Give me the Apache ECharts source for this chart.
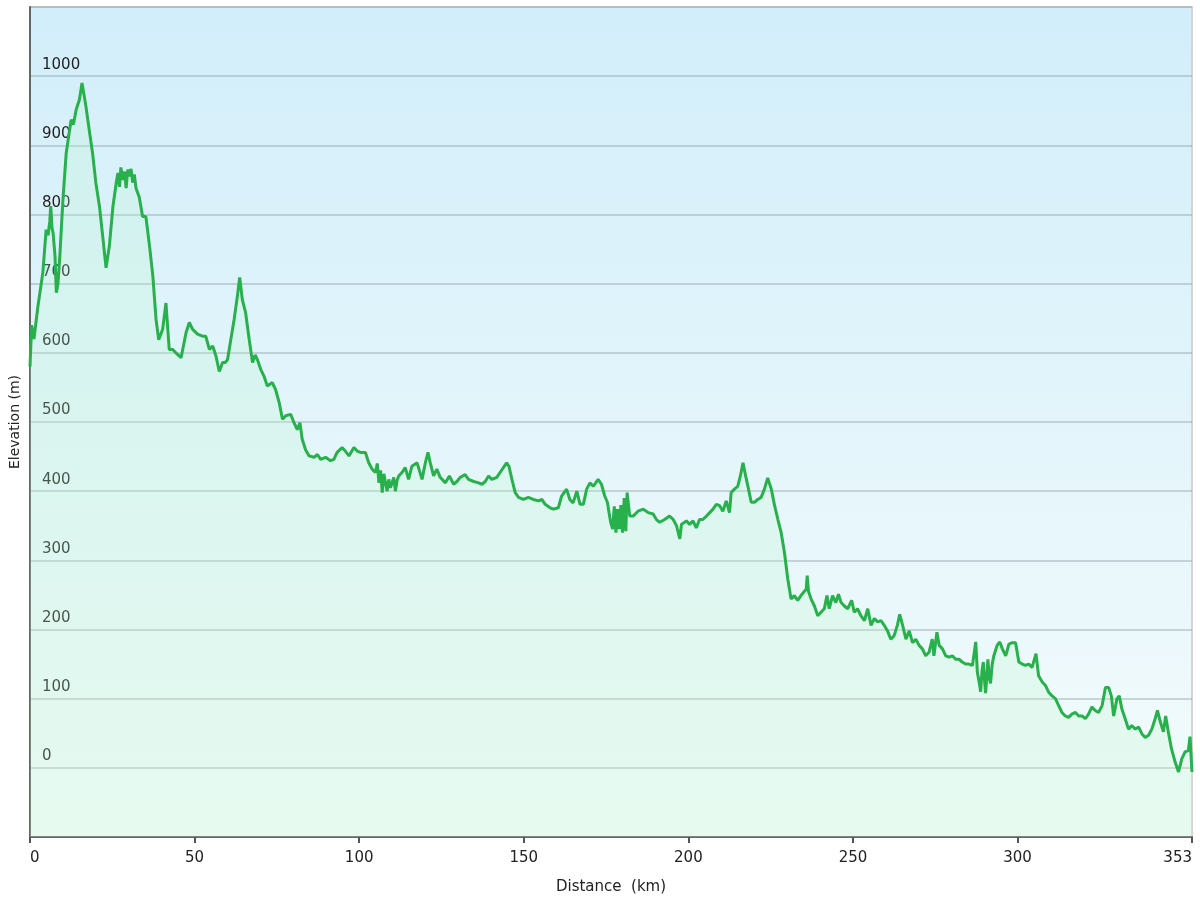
<!DOCTYPE html>
<html>
<head>
<meta charset="utf-8">
<script src="https://cdn.jsdelivr.net/npm/echarts@6/dist/echarts.min.js"></script>
<style>html,body{margin:0;padding:0;background:#fff}#c{width:1200px;height:900px}</style>
</head>
<body>
<div id="c"></div>
<script>
// Distance along the route (km)
const distKm = [
0,0.5,1.2,2.4,3.9,4.9,5.5,6.0,6.3,6.7,7.0,7.6,8.0,8.5,9.0,10,11,12.5,13.2,14,15,15.8,17,18,19,20,21.1,22.1,23.1,24.1,25.2,26.2,26.7,27.2,27.6,28.2,28.7,29.2,29.7,30.2,30.7,31.2,31.7,32.2,33.2,34.2,35.2,36.3,37.3,38.3,39.1,40.3,41.3,42.3,43.3,44.3,45.9,47.4,48.4,49.4,50.9,52.4,53.4,54.5,55.5,56.5,57.5,58.5,
59.3,60,61,62,63,63.7,64.5,65.5,66.6,67.6,68.4,69.1,70.1,71.1,72.1,73.6,74.6,75.7,76.7,77.7,79.2,80.2,81.2,82,82.7,83.7,84.8,86.3,87.3,88.3,89.8,91.3,92.3,93.3,94.8,95.8,96.9,98.4,99.4,100.4,101.9,102.9,103.9,104.9,105.5,106,106.5,107,107.5,108,108.5,109,109.5,110,110.5,111,111.5,112,113,114,115,116,117.6,
119.1,120.1,120.9,121.6,122.6,123.6,124.6,126.2,127.4,128.7,129.7,130.7,132.2,133.2,134.8,136.3,137.3,138.3,139.3,140.3,141.8,142.8,143.8,144.8,145.5,146.4,147.4,148.4,149.9,151.4,152.9,154.5,155.5,156.5,158,159,160.5,161.5,163,164,165,166.1,167.1,168.1,169.1,170.1,171.1,172.6,173.6,174.6,
175.4,175.9,176.4,177,177.5,178,178.5,179,179.5,180,180.5,181,181.4,182.2,183.2,184.7,186.3,187.8,189.3,190.3,191.3,192.8,194.3,195.4,196.4,197.4,197.9,199.4,200.4,201.4,202.4,203.4,204.4,205.5,206.5,207.5,208.5,209.5,210.5,211.5,212.5,213,214,215,215.8,216.6,217.4,218.1,219.1,220.1,221.1,222.1,223.1,224.1,225.2,226.2,227.2,228.2,229.2,230.2,231.2,232.2,233.2,234.2,
235.2,235.8,236.1,236.5,237.3,238.3,239.3,240.3,241.3,242.1,242.8,243.8,244.8,245.6,246.4,247.4,248.4,249.6,250.4,251.4,252.4,253.5,254.5,255.5,256.5,257.5,258.5,259.5,260.5,261.5,262.5,263.5,264.2,265.1,266.1,267.1,268.1,269.1,270.1,271.1,272.1,273.1,274.1,274.6,275.5,276.2,277.2,278.2,279.2,280.2,281.2,282.2,283.2,284.2,285.2,286.3,287.3,287.8,288.3,288.8,289.2,289.6,290,290.3,290.7,291,291.4,291.8,292.3,292.8,293.8,294.6,
295.4,296.4,297.4,298.4,299.4,300.4,301.4,302.4,303.4,304.4,305.6,306.4,307.5,308.5,309.5,310.5,311.5,312.5,313.5,314.5,315.5,316.6,317.6,318.6,319.6,320.6,321.6,322.6,323.6,324.6,325.7,326.7,327.7,328.5,329.2,330.2,330.9,331.7,332.7,333.7,334.7,335.8,336.8,337.8,338.8,339.8,340.8,341.8,342.5,343.3,344.3,345,345.8,346.8,347.9,348.9,349.9,350.9,351.9,352.4,353
];
// Elevation (m)
const elevM = [
580,640,620,667,716,778,770,790,812,780,774,740,687,700,735,821,889,937,930,951,966,990,956,922,889,846,812,768,723,754,812,846,860,840,868,850,862,838,865,855,866,846,858,838,825,797,797,755,712,648,619,634,672,605,605,600,593,629,644,634,627,624,624,605,610,595,573,586,
586,590,619,648,682,709,677,658,619,586,597,590,576,566,552,557,547,528,504,509,511,499,489,499,475,460,451,449,453,446,449,444,446,456,463,458,451,463,458,456,456,441,432,427,440,412,430,398,425,412,400,417,405,412,420,400,415,422,427,434,417,436,441,
417,441,456,441,422,432,420,412,422,410,414,420,424,417,414,412,410,414,422,417,420,427,434,441,436,417,398,391,388,391,388,386,388,381,376,374,376,393,403,388,383,400,381,381,403,412,407,417,410,393,
384,369,355,345,378,340,374,345,380,340,390,342,398,364,364,371,374,369,367,359,355,359,364,359,350,331,352,357,352,357,347,359,359,364,369,374,381,379,371,386,369,398,403,407,422,441,422,407,384,384,388,391,403,419,403,379,359,340,311,273,244,249,242,249,
255,258,278,255,244,234,220,225,230,249,230,249,239,251,239,234,230,242,225,230,220,213,230,206,216,211,213,206,198,186,191,206,222,206,186,198,181,186,177,172,162,167,186,162,196,177,172,162,160,162,157,157,153,150,150,148,182,138,125,110,140,153,125,108,135,157,130,122,150,162,177,182,
172,162,179,181,181,153,150,148,150,145,165,133,124,119,109,104,100,90,80,75,73,78,80,75,75,71,78,88,83,80,90,116,116,104,75,100,104,85,71,56,61,56,59,49,44,47,56,71,83,68,52,75,52,27,8,-6,13,23,25,45,-6
];
const xTickValues = [0,50,100,150,200,250,300,353];
const yMin = -100, yMax = 1100, yStep = 100;

const profile = distKm.map((d, i) => [d, elevM[i]]);
const FONT = '"DejaVu Sans", Verdana, sans-serif';

const chart = echarts.init(document.getElementById('c'));
chart.setOption({
  animation: false,
  backgroundColor: '#ffffff',
  grid: {
    left: 27, right: 8, top: 7, bottom: 61,
    show: true,
    borderColor: '#d4d4d4', borderWidth: 2,
    backgroundColor: new echarts.graphic.LinearGradient(0, 0, 0, 1, [
      {offset: 0, color: '#d2eefa'},
      {offset: 1, color: '#f4fcfc'}
    ])
  },
  xAxis: {
    type: 'value', min: 0, max: 353,
    name: 'Distance  (km)', nameLocation: 'middle', nameGap: 43,
    nameTextStyle: {fontFamily: FONT, fontSize: 15, color: '#222'},
    axisLine: {show: true, onZero: false, lineStyle: {color: '#666', width: 2}},
    axisTick: {show: true, customValues: xTickValues, length: 6, lineStyle: {color: '#555', width: 2}},
    axisLabel: {customValues: xTickValues, fontFamily: FONT, fontSize: 15, color: '#222', margin: 14,
                alignMinLabel: 'left', alignMaxLabel: 'right'},
    splitLine: {show: false}
  },
  yAxis: {
    type: 'value', min: yMin, max: yMax, interval: yStep,
    name: 'Elevation (m)', nameLocation: 'middle', nameGap: 8, nameRotate: 90,
    nameTextStyle: {fontFamily: FONT, fontSize: 14, color: '#222'},
    axisLine: {show: true, onZero: false, lineStyle: {color: '#666', width: 2}},
    axisTick: {show: false},
    axisLabel: {
      inside: true, margin: 12, fontFamily: FONT, fontSize: 15, color: '#222',
      verticalAlign: 'bottom', padding: [0, 0, 4, 0],
      formatter: v => (v < 0 || v > 1000) ? '' : String(v)
    },
    splitLine: {show: true, lineStyle: {color: 'rgba(120,135,140,0.32)', width: 2}}
  },
  series: [{
    type: 'line', data: profile, showSymbol: false, symbol: 'none',
    lineStyle: {color: '#27b04b', width: 3},
    areaStyle: {color: 'rgba(190,245,205,0.35)', origin: 'start'},
    z: 3
  }]
});
</script>
</body>
</html>
